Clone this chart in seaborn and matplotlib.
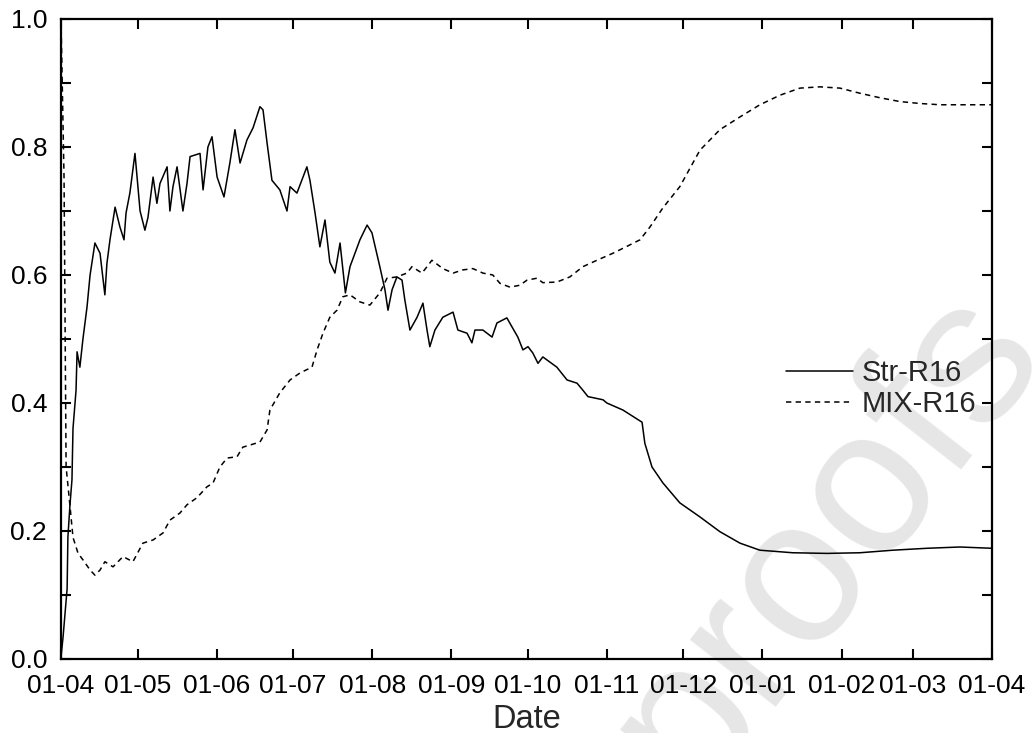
import numpy as np
import pandas as pd
import matplotlib
matplotlib.use("Agg")
import matplotlib.pyplot as plt
import matplotlib.dates as mdates
from matplotlib.ticker import MultipleLocator
from matplotlib.lines import Line2D
import seaborn as sns

start_date = "2016-04-01"
end_date = "2017-04-01"

str_days = [0, 0.8, 2.4, 2.7, 3.5, 4.3, 4.7, 5.9, 6.3, 7.4, 8.6, 10.2, 11.4, 13.3, 15.3,
            17.2, 18.0, 19.2, 21.2, 23.1, 24.7, 25.5, 27.0, 29.0, 31.0, 32.9, 34.1, 36.1,
            37.6, 38.8, 41.6, 42.7, 43.9, 45.5, 47.8, 49.4, 50.6, 54.5, 55.7, 57.6, 59.2,
            61.2, 63.9, 66.2, 68.2, 70.2, 72.9, 75.3, 78.0, 79.2, 80.8, 82.7, 85.8, 88.6,
            89.8, 92.5, 96.4, 97.6, 99.6, 101.5, 103.5, 105.4, 107.4, 109.4, 111.5, 113.3,
            117.2, 120.0, 121.9, 125.0, 127.0, 128.2, 129.8, 131.7, 133.7, 134.8, 136.8,
            139.6, 141.9, 143.5, 144.6, 146.6, 149.7, 153.7, 155.6, 159.2, 161.1, 162.3,
            165.4, 169.0, 170.9, 174.8, 176.8, 179.1, 181.1, 183.1, 185.0, 187.0, 188.9,
            194.4, 198.4, 202.3, 204.6, 206.6, 212.5, 214.0, 220.3, 227.8, 228.9, 231.7,
            236.0, 242.6, 250.5, 258.3, 266.2, 274.0, 286.9, 300.3, 313.2, 326.1, 339.5,
            352.4, 365.0]
str_vals = [0.003, 0.034, 0.11, 0.19, 0.24, 0.28, 0.36, 0.42, 0.48, 0.456, 0.50, 0.55, 0.60,
            0.65, 0.634, 0.569, 0.618, 0.655, 0.706, 0.675, 0.655, 0.697, 0.728, 0.79, 0.70,
            0.67, 0.69, 0.753, 0.712, 0.743, 0.769, 0.70, 0.738, 0.769, 0.70, 0.743, 0.785,
            0.79, 0.733, 0.80, 0.816, 0.753, 0.722, 0.775, 0.827, 0.775, 0.811, 0.83, 0.863,
            0.858, 0.806, 0.748, 0.733, 0.70, 0.738, 0.728, 0.769, 0.748, 0.697, 0.644, 0.686,
            0.62, 0.603, 0.65, 0.572, 0.613, 0.655, 0.678, 0.666, 0.613, 0.577, 0.545, 0.577,
            0.597, 0.592, 0.561, 0.514, 0.534, 0.556, 0.514, 0.488, 0.514, 0.534, 0.542,
            0.514, 0.509, 0.494, 0.514, 0.514, 0.503, 0.525, 0.533, 0.519, 0.503, 0.483,
            0.488, 0.478, 0.462, 0.472, 0.456, 0.436, 0.431, 0.42, 0.41, 0.405, 0.40, 0.389,
            0.37, 0.337, 0.30, 0.275, 0.244, 0.222, 0.199, 0.181, 0.17, 0.166, 0.165, 0.166,
            0.17, 0.173, 0.175, 0.173]

mix_days = [0, 1.2, 2.0, 3.5, 4.7, 6.7, 8.6, 11.4, 13.3, 15.3, 17.2, 20.4, 24.3, 28.2, 32.1,
            36.1, 40.0, 42.7, 46.6, 49.4, 53.3, 57.2, 59.6, 62.3, 65.1, 69.0, 71.3, 78.0,
            80.8, 81.9, 85.8, 89.8, 93.7, 98.4, 100.4, 102.7, 105.4, 108.2, 110.5, 113.3,
            117.2, 121.1, 125.0, 127.8, 131.7, 135.6, 137.6, 141.5, 143.5, 145.4, 149.7,
            153.7, 157.6, 161.5, 165.4, 169.3, 172.1, 176.0, 179.9, 182.7, 186.6, 188.9,
            194.4, 199.5, 204.6, 210.1, 216.4, 223.0, 227.0, 230.9, 236.0, 242.6, 250.5,
            258.3, 266.2, 274.0, 281.9, 289.7, 297.5, 305.4, 313.2, 321.0, 328.9, 336.7,
            344.6, 365.0]
mix_vals = [1.0, 0.75, 0.30, 0.24, 0.19, 0.165, 0.155, 0.139, 0.131, 0.139, 0.152, 0.144,
            0.16, 0.152, 0.181, 0.186, 0.197, 0.217, 0.228, 0.241, 0.252, 0.269, 0.275, 0.30,
            0.314, 0.316, 0.331, 0.339, 0.358, 0.389, 0.416, 0.436, 0.447, 0.456, 0.483,
            0.509, 0.534, 0.545, 0.566, 0.569, 0.558, 0.553, 0.572, 0.595, 0.597, 0.603,
            0.613, 0.603, 0.613, 0.623, 0.61, 0.603, 0.608, 0.61, 0.603, 0.60, 0.587, 0.581,
            0.584, 0.592, 0.595, 0.588, 0.589, 0.597, 0.613, 0.623, 0.634, 0.647, 0.655,
            0.675, 0.705, 0.738, 0.795, 0.827, 0.847, 0.866, 0.881, 0.892, 0.894, 0.892,
            0.884, 0.877, 0.871, 0.868, 0.866, 0.866]

series_names = ["Str-R16", "MIX-R16"]
x_label = "Date"
watermark = "proofs"

sns.set_theme(style="ticks")
plt.rcParams["font.family"] = ["Liberation Sans", "DejaVu Sans"]

t0 = pd.Timestamp(start_date)
df_str = pd.DataFrame({"Date": t0 + pd.to_timedelta(str_days, unit="D"), "value": str_vals})
df_mix = pd.DataFrame({"Date": t0 + pd.to_timedelta(mix_days, unit="D"), "value": mix_vals})

fig = plt.figure(figsize=(10.33, 7.33), dpi=100)
fig.text(0.80, 0.265, watermark, rotation=52, fontsize=148, color="#e6e6e6",
         ha="center", va="center", rotation_mode="anchor", zorder=-5)
ax = fig.add_axes([61 / 1033, 74 / 733, 931 / 1033, 640 / 733])
ax.patch.set_alpha(0)

dash = (0, (3.5, 2.8))
sns.lineplot(data=df_str, x="Date", y="value", ax=ax, color="black", linewidth=1.1,
             estimator=None, sort=False, legend=False)
sns.lineplot(data=df_mix, x="Date", y="value", ax=ax, color="black", linewidth=1.1,
             linestyle=dash, estimator=None, sort=False, legend=False)

ax.set_xlim(pd.Timestamp(start_date), pd.Timestamp(end_date))
ax.set_ylim(0, 1.0)
ax.xaxis.set_major_locator(mdates.MonthLocator())
ax.xaxis.set_major_formatter(mdates.DateFormatter("%d-%m"))
ax.yaxis.set_major_locator(MultipleLocator(0.2))
ax.yaxis.set_minor_locator(MultipleLocator(0.1))
ax.yaxis.set_major_formatter(matplotlib.ticker.FormatStrFormatter("%.1f"))

ax.tick_params(axis="both", which="both", direction="in", length=7, width=1.5,
               top=True, right=True, labelsize=19, colors="black")
ax.tick_params(axis="x", pad=11)
ax.tick_params(axis="y", pad=10)
for sp in ax.spines.values():
    sp.set_linewidth(1.6)
    sp.set_color("black")

ax.set_xlabel(x_label, fontsize=23.5, labelpad=4)
ax.set_ylabel("")

handles = [Line2D([], [], color="black", linewidth=1.1),
           Line2D([], [], color="black", linewidth=1.1, linestyle=dash)]
ax.legend(handles, series_names, loc="center left", bbox_to_anchor=(0.779, 0.423),
          frameon=False, fontsize=21, handlelength=2.3, handletextpad=0.3,
          borderaxespad=0, borderpad=0, labelspacing=0.1)

fig.savefig("out.png", dpi=100)
